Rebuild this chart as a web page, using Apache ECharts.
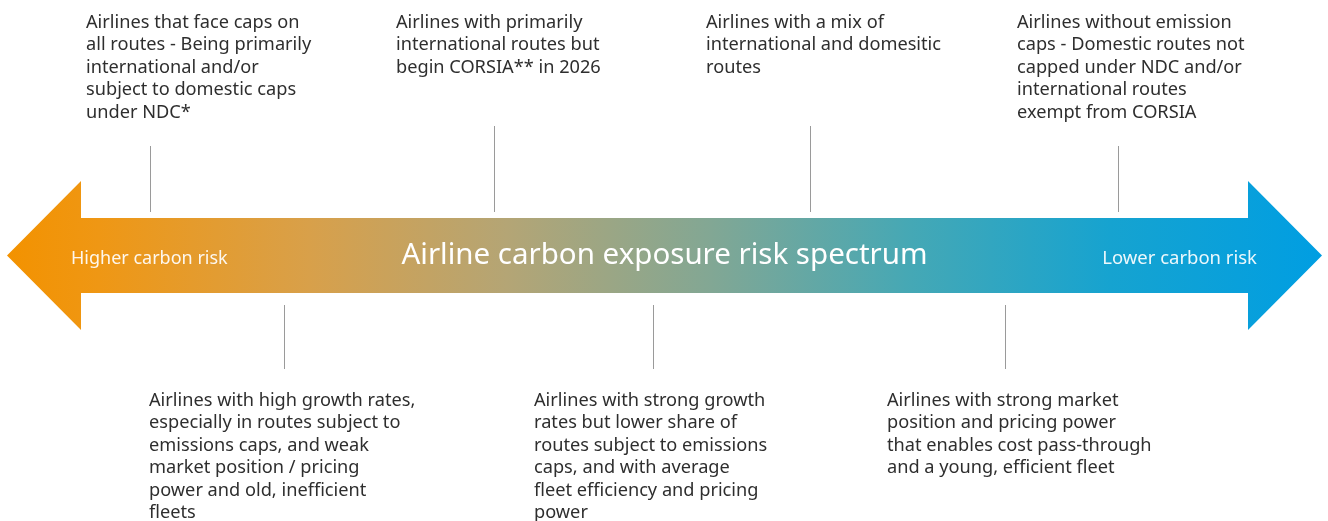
<!DOCTYPE html>
<html><head><meta charset="utf-8">
<script src="https://cdn.jsdelivr.net/npm/echarts@6/dist/echarts.min.js"></script>
<style>html,body{margin:0;padding:0;background:#fff}#chart{width:1328px;height:521px}</style>
</head><body><div id="chart"></div>
<script>
// ---- data ----
const spectrumTitle = 'Airline carbon exposure risk spectrum';
const spectrumEndLabels = ['Higher carbon risk', 'Lower carbon risk'];
const spectrumRange = [7, 1322];           // arrow extent along the spectrum axis
const topNotes = [
  'Airlines that face caps on\nall routes - Being primarily\ninternational and/or\nsubject to domestic caps\nunder NDC*',
  'Airlines with primarily\ninternational routes but\nbegin CORSIA** in 2026',
  'Airlines with a mix of\ninternational and domesitic\nroutes',
  'Airlines without emission\ncaps - Domestic routes not\ncapped under NDC and/or\ninternational routes\nexempt from CORSIA'
];
const topNoteAnchor = [150, 494, 810, 1118];
const topNoteTextX = [86, 396, 706, 1017];
const topNoteLineStart = [146, 126, 126, 146];
const bottomNotes = [
  'Airlines with high growth rates,\nespecially in routes subject to\nemissions caps, and weak\nmarket position / pricing\npower and old, inefficient\nfleets',
  'Airlines with strong growth\nrates but lower share of\nroutes subject to emissions\ncaps, and with average\nfleet efficiency and pricing\npower',
  'Airlines with strong market\nposition and pricing power\nthat enables cost pass-through\nand a young, efficient fleet'
];
const bottomNoteAnchor = [284, 653, 1005];
const bottomNoteTextX = [149, 534, 887];

// ---- style constants ----
const FONT = '"Noto Sans", "Open Sans", sans-serif';
const TEXT_COLOR = '#2e2e2e';
const LINE_COLOR = '#9a9a9a';
const AXIS_Y = 255.5, SHAFT_HALF = 37.5, HEAD_HALF = 74.5, HEAD_LEN = 74;
const TOP_TEXT_Y = 11.6, BOTTOM_TEXT_Y = 389.6, LINE_H = 22.4;
const TOP_LINE_END = 212, BOTTOM_LINE_START = 305, BOTTOM_LINE_END = 369;

const chart = echarts.init(document.getElementById('chart'), null, {renderer: 'canvas'});

const gradient = new echarts.graphic.LinearGradient(0, 0, 1, 0, [
  {offset: 0, color: '#F39200'},
  {offset: 0.07, color: '#EF9714'},
  {offset: 0.23, color: '#D8A04A'},
  {offset: 0.38, color: '#B4A575'},
  {offset: 0.535, color: '#82A794'},
  {offset: 0.687, color: '#45A8B5'},
  {offset: 0.839, color: '#16A3D0'},
  {offset: 1, color: '#009EE2'}
]);

const noteData = [];
topNotes.forEach((t, i) => noteData.push([topNoteTextX[i], TOP_TEXT_Y, t]));
bottomNotes.forEach((t, i) => noteData.push([bottomNoteTextX[i], BOTTOM_TEXT_Y, t]));

const connectorData = [];
topNoteAnchor.forEach((x, i) => connectorData.push([x, topNoteLineStart[i], TOP_LINE_END]));
bottomNoteAnchor.forEach((x) => connectorData.push([x, BOTTOM_LINE_START, BOTTOM_LINE_END]));

chart.setOption({
  animation: false,
  grid: {left: 0, right: 0, top: 0, bottom: 0},
  xAxis: {type: 'value', min: 0, max: 1328, show: false},
  yAxis: {type: 'value', min: 0, max: 521, inverse: true, show: false},
  series: [
    {
      type: 'custom',
      data: [[spectrumRange[0], spectrumRange[1]]],
      renderItem: function (params, api) {
        const x0 = api.value(0), x1 = api.value(1);
        const P = (x, y) => api.coord([x, y]);
        const pts = [
          P(x0, AXIS_Y),
          P(x0 + HEAD_LEN, AXIS_Y - HEAD_HALF),
          P(x0 + HEAD_LEN, AXIS_Y - SHAFT_HALF),
          P(x1 - HEAD_LEN, AXIS_Y - SHAFT_HALF),
          P(x1 - HEAD_LEN, AXIS_Y - HEAD_HALF),
          P(x1, AXIS_Y),
          P(x1 - HEAD_LEN, AXIS_Y + HEAD_HALF),
          P(x1 - HEAD_LEN, AXIS_Y + SHAFT_HALF),
          P(x0 + HEAD_LEN, AXIS_Y + SHAFT_HALF),
          P(x0 + HEAD_LEN, AXIS_Y + HEAD_HALF)
        ];
        const left = P(x0 + 64, AXIS_Y + 3.3);
        const right = P(x1 - 65, AXIS_Y + 3.3);
        const mid = P((x0 + x1) / 2, AXIS_Y - 0.3);
        return {
          type: 'group',
          children: [
            {type: 'polygon', shape: {points: pts}, style: {fill: gradient}},
            {type: 'text', x: left[0], y: left[1], style: {text: spectrumEndLabels[0], fill: 'rgba(255,255,255,0.92)', fontFamily: FONT, fontSize: 18, align: 'left', verticalAlign: 'middle'}},
            {type: 'text', x: right[0], y: right[1], style: {text: spectrumEndLabels[1], fill: 'rgba(255,255,255,0.92)', fontFamily: FONT, fontSize: 18.5, align: 'right', verticalAlign: 'middle'}},
            {type: 'text', x: mid[0], y: mid[1], style: {text: spectrumTitle, fill: '#ffffff', fontFamily: FONT, fontSize: 29.5, align: 'center', verticalAlign: 'middle'}}
          ]
        };
      }
    },
    {
      type: 'custom',
      data: connectorData,
      renderItem: function (params, api) {
        const a = api.coord([api.value(0), api.value(1)]);
        const b = api.coord([api.value(0), api.value(2)]);
        return {type: 'line', shape: {x1: Math.round(a[0]) + 0.5, y1: a[1], x2: Math.round(b[0]) + 0.5, y2: b[1]}, style: {stroke: LINE_COLOR, lineWidth: 1}};
      }
    },
    {
      type: 'custom',
      data: noteData,
      renderItem: function (params, api) {
        const p = api.coord([api.value(0), api.value(1)]);
        return {type: 'text', x: p[0], y: p[1], style: {text: noteData[params.dataIndex][2], fill: TEXT_COLOR, fontFamily: FONT, fontSize: 18.2, lineHeight: LINE_H, align: 'left', verticalAlign: 'top'}};
      }
    }
  ]
});
</script></body></html>
